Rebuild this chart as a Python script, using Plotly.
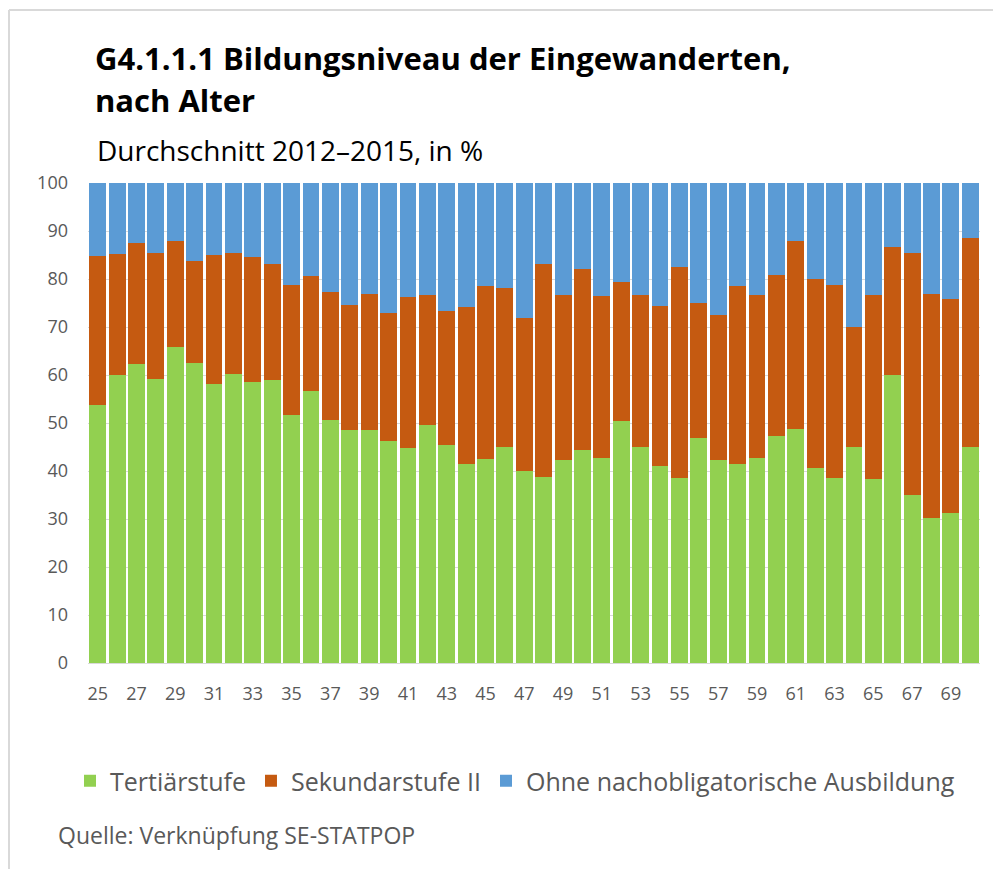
import plotly.graph_objects as go

ages = list(range(25, 71))
# cumulative top of green (Tertiärstufe) and of orange (Tertiär + Sekundar II)
tertiaer = [53.8, 60.1, 62.2, 59.1, 65.8, 62.5, 58.2, 60.3, 58.6, 58.9,
            51.6, 56.7, 50.6, 48.5, 48.5, 46.3, 44.7, 49.5, 45.4, 41.4,
            42.5, 45.1, 39.9, 38.8, 42.3, 44.4, 42.8, 50.5, 45.1, 41.1,
            38.5, 46.8, 42.3, 41.4, 42.8, 47.3, 48.7, 40.6, 38.5, 44.9,
            38.3, 60.1, 35.0, 30.2, 31.3, 45.1]
kum_sek = [84.7, 85.2, 87.6, 85.5, 87.9, 83.7, 85.0, 85.5, 84.5, 83.1,
           78.8, 80.7, 77.2, 74.5, 76.9, 72.9, 76.2, 76.7, 73.3, 74.1,
           78.6, 78.1, 71.9, 83.1, 76.7, 82.0, 76.4, 79.4, 76.7, 74.3,
           82.6, 74.9, 72.4, 78.6, 76.7, 80.9, 87.9, 79.9, 78.8, 70.1,
           76.7, 86.6, 85.5, 76.9, 75.9, 88.5]
sekundar = [round(k - t, 1) for k, t in zip(kum_sek, tertiaer)]
ohne = [round(100 - k, 1) for k in kum_sek]

series_names = ["Tertiärstufe", "Sekundarstufe II", "Ohne nachobligatorische Ausbildung"]
colors = ["#92D050", "#C55A11", "#5B9BD5"]
tick_ages = list(range(25, 70, 2))

fig = go.Figure()
for name, vals, col in zip(series_names, [tertiaer, sekundar, ohne], colors):
    fig.add_trace(go.Bar(x=ages, y=vals, name=name, marker=dict(color=col, line=dict(width=0))))

OFF = 8  # default page margin of the html body
W, H = 1001 - OFF, 869 - OFF
L, R, T, B = 80, 21, 175, 206
pw, ph = W - L - R, H - T - B

def px(x):  # page pixel -> paper
    return (x - OFF - L) / pw

def py(y):
    return (H - B - (y - OFF)) / ph

txt = "#595959"
fig.update_layout(
    width=W, height=H, barmode="stack", bargap=0.13,
    margin=dict(l=L, r=R, t=T, b=B),
    paper_bgcolor="white", plot_bgcolor="white",
    font=dict(family="Open Sans", color=txt),
    xaxis=dict(range=[24.5, 70.5], tickvals=tick_ages, ticktext=[str(a) for a in tick_ages],
               showgrid=False, zeroline=False, showline=True, linecolor="#D9D9D9", linewidth=1,
               ticks="", tickfont=dict(size=18, color=txt), ticklabelstandoff=14),
    yaxis=dict(range=[0, 100], dtick=10, showgrid=True, gridcolor="#D9D9D9", gridwidth=1,
               zeroline=False, showline=False, ticks="", tickfont=dict(size=18, color=txt),
               ticklabelstandoff=19),
    legend=dict(orientation="h", x=px(70), xanchor="left", y=py(781), yanchor="middle",
                font=dict(size=25, color=txt), itemwidth=30, traceorder="normal",
                bgcolor="rgba(0,0,0,0)"),
    annotations=[
        dict(text="<b>G4.1.1.1 Bildungsniveau der Eingewanderten,</b>", x=px(93), y=py(58),
             xref="paper", yref="paper", xanchor="left", yanchor="middle", showarrow=False,
             font=dict(size=31, color="black", family="Open Sans")),
        dict(text="<b>nach Alter</b>", x=px(93), y=py(100),
             xref="paper", yref="paper", xanchor="left", yanchor="middle", showarrow=False,
             font=dict(size=31, color="black", family="Open Sans")),
        dict(text="Durchschnitt 2012–2015, in %", x=px(95), y=py(150),
             xref="paper", yref="paper", xanchor="left", yanchor="middle", showarrow=False,
             font=dict(size=28, color="black", family="Open Sans")),
        dict(text="Quelle: Verknüpfung SE-STATPOP", x=px(56), y=py(835),
             xref="paper", yref="paper", xanchor="left", yanchor="middle", showarrow=False,
             font=dict(size=23, color=txt, family="Open Sans")),
    ],
    shapes=[
        dict(type="line", xref="paper", yref="paper", x0=px(9), x1=px(1001), y0=py(10), y1=py(10),
             line=dict(color="#D9D9D9", width=2)),
        dict(type="line", xref="paper", yref="paper", x0=px(9), x1=px(9), y0=py(10), y1=py(869),
             line=dict(color="#D9D9D9", width=2)),
    ],
)

fig.write_html("out.html")
